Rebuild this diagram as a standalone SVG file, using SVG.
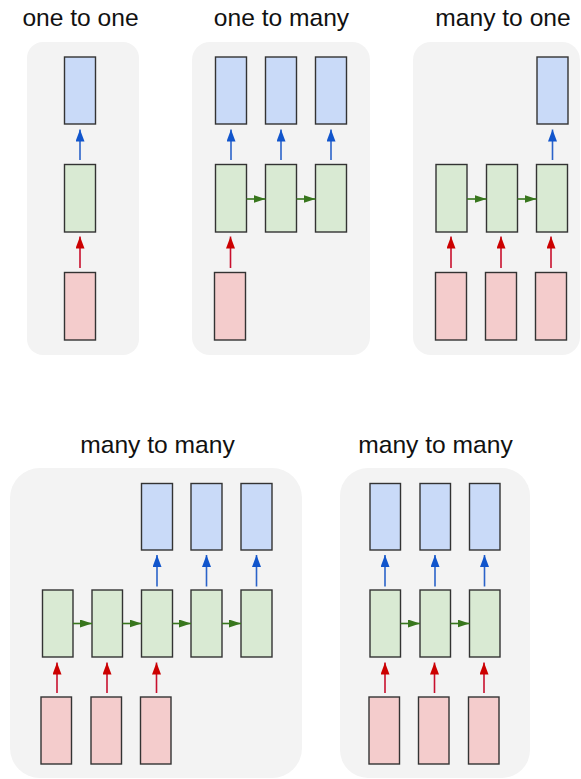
<svg xmlns="http://www.w3.org/2000/svg" width="581" height="779" viewBox="0 0 581 779">
<defs>
<style>
.bg{fill:#f3f3f3}
.t{font-family:"Liberation Sans",Arial,sans-serif;font-size:24.6px;fill:#111;text-anchor:middle}
.o{fill:#c9daf8;stroke:#333;stroke-width:1.4}
.h{fill:#d9ead3;stroke:#333;stroke-width:1.4}
.i{fill:#f4cccc;stroke:#333;stroke-width:1.4}
.ab{stroke:#2a62c9;stroke-width:1.6;fill:none;marker-end:url(#mb)}
.ar{stroke:#c8102e;stroke-width:1.6;fill:none;marker-end:url(#mr)}
.ag{stroke:#38761d;stroke-width:1.6;fill:none;marker-end:url(#mg)}
</style>
<marker id="mb" markerUnits="userSpaceOnUse" markerWidth="12" markerHeight="9" refX="12" refY="4.5" orient="auto"><path d="M0,0 L12,4.5 L0,9 z" fill="#1155cc"/></marker>
<marker id="mr" markerUnits="userSpaceOnUse" markerWidth="12" markerHeight="9" refX="12" refY="4.5" orient="auto"><path d="M0,0 L12,4.5 L0,9 z" fill="#cc0000"/></marker>
<marker id="mg" markerUnits="userSpaceOnUse" markerWidth="12" markerHeight="8" refX="12" refY="4" orient="auto"><path d="M0,0 L12,4 L0,8 z" fill="#38761d"/></marker>
</defs>
<rect width="581" height="779" fill="#ffffff"/>

<g id="panels">
<rect class="bg" x="27" y="42" width="112" height="313" rx="16"/>
<rect class="bg" x="192" y="42" width="178" height="313" rx="18"/>
<rect class="bg" x="413" y="42" width="167" height="313" rx="18"/>
<rect class="bg" x="10" y="468" width="292" height="310" rx="30"/>
<rect class="bg" x="340" y="468" width="190" height="310" rx="28"/>
</g>

<g id="titles">
<text class="t" x="80.5" y="26">one to one</text>
<text class="t" x="281.5" y="26">one to many</text>
<text class="t" x="503" y="26">many to one</text>
<text class="t" x="157.5" y="453">many to many</text>
<text class="t" x="435.5" y="453">many to many</text>
</g>

<g id="p1">
<rect id="p1-out" class="o" x="64.5" y="57" width="31" height="67"/>
<rect id="p1-hid" class="h" x="64.5" y="164.5" width="31" height="67.5"/>
<rect id="p1-in" class="i" x="64.5" y="272.5" width="31" height="67.5"/>
</g>

<g id="p2">
<rect id="p2-out1" class="o" x="215.5" y="57" width="31" height="67"/>
<rect id="p2-out2" class="o" x="265.5" y="57" width="31" height="67"/>
<rect id="p2-out3" class="o" x="315.5" y="57" width="31" height="67"/>
<rect id="p2-hid1" class="h" x="215.5" y="164.5" width="31" height="67.5"/>
<rect id="p2-hid2" class="h" x="265.5" y="164.5" width="31" height="67.5"/>
<rect id="p2-hid3" class="h" x="315.5" y="164.5" width="31" height="67.5"/>
<rect id="p2-in1" class="i" x="214.5" y="272.5" width="31" height="67.5"/>
</g>

<g id="p3">
<rect id="p3-out3" class="o" x="537" y="57" width="31" height="67"/>
<rect id="p3-hid1" class="h" x="436" y="164.5" width="31" height="67.5"/>
<rect id="p3-hid2" class="h" x="486.5" y="164.5" width="31" height="67.5"/>
<rect id="p3-hid3" class="h" x="536.5" y="164.5" width="31" height="67.5"/>
<rect id="p3-in1" class="i" x="435.5" y="272.5" width="31" height="67.5"/>
<rect id="p3-in2" class="i" x="485.5" y="272.5" width="31" height="67.5"/>
<rect id="p3-in3" class="i" x="535.5" y="272.5" width="31" height="67.5"/>
</g>

<g id="p4">
<rect id="p4-out3" class="o" x="141.5" y="483.5" width="31" height="66.5"/>
<rect id="p4-out4" class="o" x="191" y="483.5" width="31" height="66.5"/>
<rect id="p4-out5" class="o" x="241" y="483.5" width="31" height="66.5"/>
<rect id="p4-hid1" class="h" x="42.5" y="590" width="30.5" height="67"/>
<rect id="p4-hid2" class="h" x="92" y="590" width="30.5" height="67"/>
<rect id="p4-hid3" class="h" x="141.5" y="590" width="31" height="67"/>
<rect id="p4-hid4" class="h" x="191" y="590" width="31" height="67"/>
<rect id="p4-hid5" class="h" x="241" y="590" width="31" height="67"/>
<rect id="p4-in1" class="i" x="41" y="697" width="30.5" height="67"/>
<rect id="p4-in2" class="i" x="91" y="697" width="30.5" height="67"/>
<rect id="p4-in3" class="i" x="140.5" y="697" width="30.5" height="67"/>
</g>

<g id="p5">
<rect id="p5-out1" class="o" x="370" y="483.5" width="30.5" height="66.5"/>
<rect id="p5-out2" class="o" x="420" y="483.5" width="30.5" height="66.5"/>
<rect id="p5-out3" class="o" x="469.5" y="483.5" width="30.5" height="66.5"/>
<rect id="p5-hid1" class="h" x="370" y="590" width="30.5" height="67"/>
<rect id="p5-hid2" class="h" x="420" y="590" width="30.5" height="67"/>
<rect id="p5-hid3" class="h" x="469.5" y="590" width="30.5" height="67"/>
<rect id="p5-in1" class="i" x="369" y="697" width="30.5" height="67"/>
<rect id="p5-in2" class="i" x="418.5" y="697" width="30.5" height="67"/>
<rect id="p5-in3" class="i" x="468.5" y="697" width="30.5" height="67"/>
</g>

<g id="connectors">
<!-- p1 -->
<line class="ab" x1="80" y1="160" x2="80" y2="129.5"/>
<line class="ar" x1="80" y1="268" x2="80" y2="236.5"/>
<!-- p2 -->
<line class="ab" x1="231" y1="160" x2="231" y2="129.5"/>
<line class="ab" x1="281" y1="160" x2="281" y2="129.5"/>
<line class="ab" x1="331" y1="160" x2="331" y2="129.5"/>
<line class="ag" x1="246.5" y1="199" x2="265.5" y2="199"/>
<line class="ag" x1="296.5" y1="199" x2="315.5" y2="199"/>
<line class="ar" x1="230.5" y1="268" x2="230.5" y2="236.5"/>
<!-- p3 -->
<line class="ab" x1="552.5" y1="160" x2="552.5" y2="129.5"/>
<line class="ag" x1="467" y1="199" x2="486.5" y2="199"/>
<line class="ag" x1="517.5" y1="199" x2="536.5" y2="199"/>
<line class="ar" x1="451" y1="268" x2="451" y2="236.5"/>
<line class="ar" x1="501" y1="268" x2="501" y2="236.5"/>
<line class="ar" x1="551" y1="268" x2="551" y2="236.5"/>
<!-- p4 -->
<line class="ab" x1="157" y1="586.5" x2="157" y2="555"/>
<line class="ab" x1="206.5" y1="586.5" x2="206.5" y2="555"/>
<line class="ab" x1="256.5" y1="586.5" x2="256.5" y2="555"/>
<line class="ag" x1="73" y1="623.5" x2="92" y2="623.5"/>
<line class="ag" x1="122.5" y1="623.5" x2="141.5" y2="623.5"/>
<line class="ag" x1="172.5" y1="623.5" x2="191" y2="623.5"/>
<line class="ag" x1="222" y1="623.5" x2="241" y2="623.5"/>
<line class="ar" x1="57" y1="693" x2="57" y2="662.5"/>
<line class="ar" x1="107" y1="693" x2="107" y2="662.5"/>
<line class="ar" x1="156.5" y1="693" x2="156.5" y2="662.5"/>
<!-- p5 -->
<line class="ab" x1="385" y1="586.5" x2="385" y2="555"/>
<line class="ab" x1="435" y1="586.5" x2="435" y2="555"/>
<line class="ab" x1="484.5" y1="586.5" x2="484.5" y2="555"/>
<line class="ag" x1="400.5" y1="623.5" x2="420" y2="623.5"/>
<line class="ag" x1="450.5" y1="623.5" x2="469.5" y2="623.5"/>
<line class="ar" x1="385" y1="693" x2="385" y2="662.5"/>
<line class="ar" x1="434.5" y1="693" x2="434.5" y2="662.5"/>
<line class="ar" x1="484" y1="693" x2="484" y2="662.5"/>
</g>
</svg>
